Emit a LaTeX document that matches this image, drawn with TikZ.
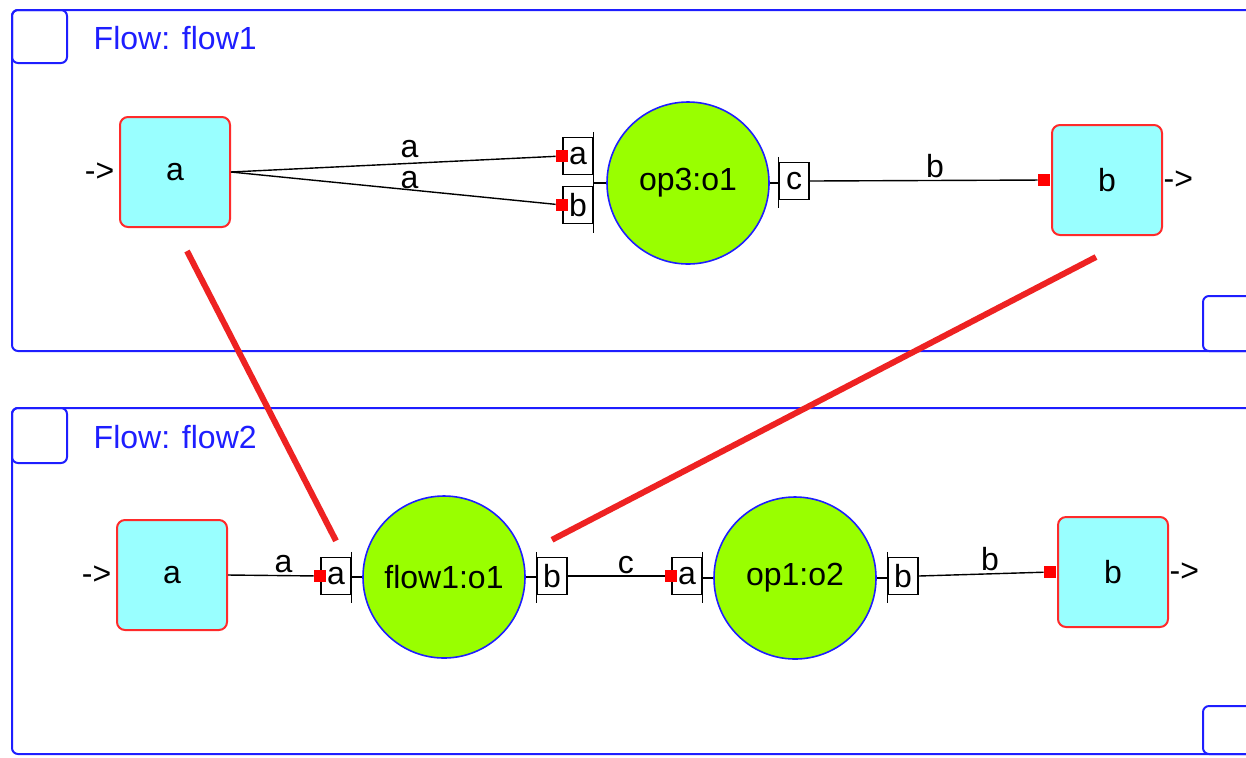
\documentclass[tikz,border=0pt]{standalone}
\usepackage{fontspec}
\setmainfont{Liberation Sans}
\definecolor{fgFrame}{HTML}{1E1EFF}
\definecolor{fgIo}{HTML}{99FFFF}
\definecolor{fgIoLine}{HTML}{FF2A2A}
\definecolor{fgOp}{HTML}{99FF00}
\definecolor{fgOpLine}{HTML}{1E1EFF}
\definecolor{fgLink}{HTML}{EE2222}
\definecolor{fgPlug}{HTML}{FF0000}
\tikzset{
  fg/.style={font=\fontsize{16}{19}\selectfont, line width=.7pt},
  frame/.style={draw=fgFrame, line width=1pt, rounded corners=3pt},
  title/.style={text=fgFrame, anchor=west, inner sep=0pt},
  io/.style={draw=fgIoLine, fill=fgIo, line width=1pt, rounded corners=4pt, minimum width=55pt, minimum height=55pt, inner sep=0pt},
  op/.style={circle, draw=fgOpLine, fill=fgOp, line width=.8pt, minimum size=81pt, inner sep=0pt},
  port/.style={draw=black, fill=white, line width=.7pt, minimum width=15pt, minimum height=18.5pt, inner sep=0pt},
  plug/.style={fill=fgPlug, minimum size=6pt, inner sep=0pt},
  wire/.style={draw=black, line width=.7pt},
  link/.style={draw=fgLink, line width=3pt},
  lbl/.style={inner sep=1pt},
  arr/.style={inner sep=0pt},
}
\begin{document}
\begin{tikzpicture}[fg, x=.5pt, y=-.5pt]
\useasboundingbox (0,0) rectangle (1246,757);
\clip (0,0) rectangle (1246,757);
% ramki
\draw[frame] (12,10) rectangle (1300,351);
\draw[frame] (12,10) rectangle (67,63);
\draw[frame] (1203,296) rectangle (1300,351);
\node[title] (t1) at (93,38) {Flow: flow1};
\draw[frame] (12,408) rectangle (1300,754);
\draw[frame] (12,408) rectangle (67,463);
\draw[frame] (1203,706) rectangle (1300,754);
\node[title] (t2) at (93,437) {Flow: flow2};
% flow1
\node[io] (a1) at (175,172) {a};
\node[op] (o1) at (688,183) {op3:o1};
\node[io] (b1) at (1107,180) {b};
\node[port] (o1a) at (578,156) {a};
\node[port] (o1b) at (578,205) {b};
\node[port] (o1c) at (794,181) {c};
\node[plug] (s1a) at (o1a.west) {};
\node[plug] (s1b) at (o1b.west) {};
\node[plug, anchor=east] (s1c) at (b1.west) {};
\node[arr, anchor=east] (i1) at ([xshift=-2pt]a1.west) {->};
\node[arr, anchor=west] (x1) at (b1.east) {->};
\draw[wire] ([yshift=2.5pt]o1a.north east) -- ([yshift=-4.5pt]o1b.south east);
\draw[wire] (o1.west) -- (o1.west -| o1a.east);
\draw[wire] ([yshift=2.5pt]o1c.north west) -- ([yshift=-4pt]o1c.south west);
\draw[wire] (o1.east) -- (o1.east -| o1c.west);
\draw[wire] (a1.east) -- node[lbl,above,pos=.55,yshift=1.5pt] {a} (s1a);
\draw[wire] (a1.east) -- node[lbl,above,pos=.55,inner sep=0pt] {a} (s1b);
\draw[wire] (o1c.east) -- node[lbl,above,pos=.55] {b} (s1c);
% flow2
\node[io] (a2) at (172,575) {a};
\node[op] (o2) at (444,577) {flow1:o1};
\node[op] (o3) at (795,578) {op1:o2};
\node[io] (b2) at (1113,572) {b};
\node[port] (o2a) at (336,576) {a};
\node[port] (o2b) at (552,576) {b};
\node[port] (o3a) at (687,576) {a};
\node[port] (o3b) at (903,576) {b};
\node[plug] (s2a) at (o2a.west) {};
\node[plug] (s3a) at (o3a.west) {};
\node[plug, anchor=east] (s2b) at (b2.west) {};
\node[arr, anchor=east] (i2) at ([xshift=-2pt]a2.west) {->};
\node[arr, anchor=west] (x2) at (b2.east) {->};
\draw[wire] ([yshift=2.5pt]o2a.north east) -- ([yshift=-4pt]o2a.south east);
\draw[wire] (o2.west) -- (o2.west -| o2a.east);
\draw[wire] ([yshift=2.5pt]o2b.north west) -- ([yshift=-4pt]o2b.south west);
\draw[wire] (o2.east) -- (o2.east -| o2b.west);
\draw[wire] ([yshift=2.5pt]o3a.north east) -- ([yshift=-4pt]o3a.south east);
\draw[wire] (o3.west) -- (o3.west -| o3a.east);
\draw[wire] ([yshift=2.5pt]o3b.north west) -- ([yshift=-4pt]o3b.south west);
\draw[wire] (o3.east) -- (o3.east -| o3b.west);
\draw[wire] (a2.east) -- node[lbl,above,pos=.65] {a} (s2a);
\draw[wire] (o2b.east) -- node[lbl,above,pos=.6] {c} (s3a);
\draw[wire] (o3b.east) -- node[lbl,above,pos=.57] {b} (s2b);
% odwzorowanie flow1 -> flow2
\draw[link] ([shift={(6pt,-11.5pt)}]a1.south) -- ([yshift=8pt]o2a.north);
\draw[link] ([shift={(-5.5pt,-10.5pt)}]b1.south) -- ([yshift=8.5pt]o2b.north);
\end{tikzpicture}
\end{document}
